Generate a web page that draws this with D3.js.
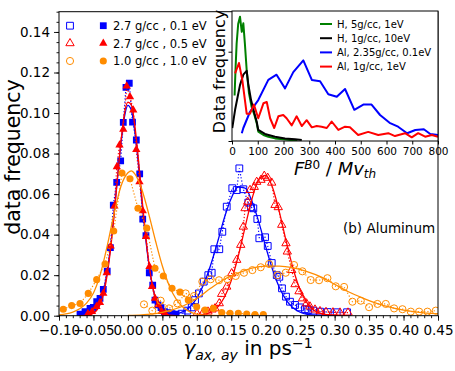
<!DOCTYPE html>
<html>
<head>
<meta charset="utf-8">
<script src="https://d3js.org/d3.v7.min.js"></script>
<style>
  * { margin: 0; padding: 0; }
  body { background: #fff; }
  text { font-family: 'DejaVu Sans', sans-serif; fill: #000; }
</style>
</head>
<body>
<svg id="chart" width="455" height="371"></svg>
<script>
// ---- main panel: [gamma (ps^-1), data frequency] ----
// filled markers (peak near zero)
const blueFilled = [[-0.0695,0.0008],[-0.0623,0.0020],[-0.0550,0.0036],[-0.0502,0.0041],[-0.0453,0.0069],[-0.0405,0.0086],[-0.0357,0.0130],[-0.0300,0.0220],[-0.0254,0.0336],[-0.0212,0.0546],[-0.0163,0.0658],[-0.0105,0.0764],[-0.0067,0.0954],[-0.0028,0.1127],[0.0020,0.1147],[0.0067,0.0955],[0.0122,0.0867],[0.0171,0.0700],[0.0215,0.0477],[0.0262,0.0395],[0.0310,0.0212],[0.0360,0.0151],[0.0393,0.0077],[0.0437,0.0053],[0.0480,0.0040],[0.0530,0.0020],[0.0580,0.0015],[0.0640,0.0010],[0.0700,0.0008]];
const redFilled = [[-0.0580,0.0010],[-0.0521,0.0020],[-0.0456,0.0045],[-0.0405,0.0065],[-0.0357,0.0110],[-0.0308,0.0212],[-0.0250,0.0344],[-0.0195,0.0541],[-0.0161,0.0735],[-0.0122,0.0842],[-0.0067,0.0920],[-0.0018,0.1133],[0.0030,0.1080],[0.0078,0.1015],[0.0122,0.0820],[0.0168,0.0660],[0.0215,0.0517],[0.0263,0.0390],[0.0313,0.0242],[0.0350,0.0143],[0.0393,0.0086],[0.0441,0.0053],[0.0490,0.0020],[0.0538,0.0012]];
const orangeFilled = [[-0.0938,0.0032],[-0.0816,0.0050],[-0.0695,0.0060],[-0.0575,0.0110],[-0.0453,0.0178],[-0.0332,0.0255],[-0.0206,0.0418],[-0.0086,0.0704],[0.0030,0.0676],[0.0146,0.0530],[0.0273,0.0432],[0.0393,0.0234],[0.0514,0.0196],[0.0640,0.0135],[0.0756,0.0116],[0.0876,0.0077],[0.0998,0.0044],[0.1119,0.0028],[0.1239,0.0036],[0.1361,0.0015],[0.1482,0.0012],[0.1602,0.0012],[0.1724,0.0008],[0.1844,0.0006],[0.1965,0.0006]];
// open markers (shifted peaks)
const blueOpen = [[0.0780,0.0010],[0.0862,0.0025],[0.0926,0.0041],[0.0974,0.0077],[0.1030,0.0110],[0.1100,0.0168],[0.1167,0.0200],[0.1216,0.0212],[0.1254,0.0328],[0.1326,0.0328],[0.1370,0.0414],[0.1434,0.0538],[0.1515,0.0629],[0.1579,0.0620],[0.1617,0.0727],[0.1675,0.0624],[0.1747,0.0558],[0.1786,0.0535],[0.1820,0.0530],[0.1878,0.0477],[0.1907,0.0382],[0.1990,0.0387],[0.2029,0.0344],[0.2087,0.0260],[0.2160,0.0200],[0.2197,0.0192],[0.2236,0.0135],[0.2294,0.0094],[0.2352,0.0069],[0.2425,0.0053],[0.2497,0.0041],[0.2570,0.0032],[0.2618,0.0028],[0.2690,0.0025],[0.2788,0.0020],[0.2900,0.0018],[0.3030,0.0017],[0.3180,0.0017]];
const redOpen = [[0.1003,0.0010],[0.1090,0.0015],[0.1162,0.0020],[0.1220,0.0030],[0.1264,0.0036],[0.1326,0.0061],[0.1360,0.0107],[0.1434,0.0143],[0.1506,0.0209],[0.1579,0.0275],[0.1637,0.0349],[0.1675,0.0439],[0.1700,0.0530],[0.1738,0.0562],[0.1772,0.0620],[0.1834,0.0635],[0.1869,0.0660],[0.1931,0.0670],[0.1979,0.0690],[0.2029,0.0680],[0.2087,0.0656],[0.2135,0.0546],[0.2182,0.0535],[0.2232,0.0448],[0.2294,0.0357],[0.2313,0.0316],[0.2377,0.0225],[0.2425,0.0155],[0.2483,0.0120],[0.2534,0.0085],[0.2592,0.0060],[0.2642,0.0045],[0.2715,0.0030],[0.2788,0.0022],[0.2875,0.0018],[0.2976,0.0016],[0.3078,0.0015],[0.3194,0.0015]];
const orangeOpen = [[0.0233,0.0056],[0.0354,0.0025],[0.0475,0.0074],[0.0596,0.0036],[0.0717,0.0061],[0.0838,0.0110],[0.0959,0.0097],[0.1080,0.0168],[0.1201,0.0180],[0.1322,0.0175],[0.1443,0.0180],[0.1564,0.0196],[0.1685,0.0212],[0.1806,0.0225],[0.1927,0.0239],[0.2048,0.0255],[0.2169,0.0200],[0.2290,0.0212],[0.2411,0.0250],[0.2532,0.0219],[0.2653,0.0176],[0.2774,0.0175],[0.2895,0.0185],[0.3016,0.0145],[0.3137,0.0142],[0.3258,0.0069],[0.3379,0.0074],[0.3500,0.0042],[0.3621,0.0058],[0.3742,0.0058],[0.3863,0.0036],[0.3984,0.0032],[0.4105,0.0020],[0.4226,0.0020],[0.4347,0.0020],[0.4468,0.0025]];
// fitted curves
const blueFitCentre = [[-0.07,0.0000],[-0.06,0.0002],[-0.05,0.0015],[-0.04,0.0066],[-0.035,0.0125],[-0.03,0.0217],[-0.025,0.0345],[-0.02,0.0506],[-0.015,0.0685],[-0.01,0.0854],[-0.005,0.0981],[0.0,0.1038],[0.005,0.1013],[0.01,0.0911],[0.015,0.0755],[0.02,0.0577],[0.025,0.0406],[0.03,0.0264],[0.035,0.0158],[0.04,0.0087],[0.05,0.0021],[0.06,0.0004],[0.07,0.0000]];
const redFitCentre = [[-0.07,0.0000],[-0.06,0.0001],[-0.05,0.0012],[-0.04,0.0058],[-0.035,0.0113],[-0.03,0.0203],[-0.025,0.0333],[-0.02,0.0498],[-0.015,0.0683],[-0.01,0.0862],[-0.005,0.0998],[0.0,0.1054],[0.005,0.1040],[0.01,0.0940],[0.015,0.0782],[0.02,0.0596],[0.025,0.0418],[0.03,0.0270],[0.035,0.0160],[0.04,0.0087],[0.05,0.0020],[0.06,0.0003],[0.07,0.0000]];
const orangeFitCentre = [[-0.10,0.0004],[-0.09,0.0009],[-0.08,0.0018],[-0.07,0.0034],[-0.06,0.0062],[-0.05,0.0112],[-0.04,0.0205],[-0.03,0.0345],[-0.02,0.0505],[-0.01,0.0640],[0.0,0.0705],[0.005,0.0715],[0.01,0.0700],[0.02,0.0625],[0.03,0.0505],[0.04,0.0370],[0.05,0.0245],[0.06,0.0148],[0.07,0.0082],[0.08,0.0042],[0.09,0.0019],[0.10,0.0008],[0.12,0.0001],[0.14,0.0000]];
const blueFitShift = [[0.05,0.0000],[0.06,0.0003],[0.07,0.0008],[0.08,0.0020],[0.09,0.0044],[0.10,0.0087],[0.11,0.0155],[0.12,0.0249],[0.13,0.0362],[0.14,0.0483],[0.15,0.0580],[0.16,0.0635],[0.17,0.0629],[0.18,0.0565],[0.19,0.0462],[0.20,0.0340],[0.21,0.0227],[0.22,0.0138],[0.23,0.0076],[0.24,0.0038],[0.25,0.0017],[0.26,0.0007],[0.28,0.0001],[0.30,0.0000]];
const redFitShift = [[0.09,0.0000],[0.10,0.0002],[0.11,0.0006],[0.12,0.0017],[0.13,0.0042],[0.14,0.0091],[0.15,0.0173],[0.16,0.0292],[0.17,0.0436],[0.18,0.0576],[0.19,0.0671],[0.20,0.0692],[0.21,0.0631],[0.22,0.0509],[0.23,0.0363],[0.24,0.0229],[0.25,0.0127],[0.26,0.0063],[0.27,0.0027],[0.28,0.0011],[0.30,0.0001],[0.32,0.0000]];
const orangeFitShift = [[0.0,0.0001],[0.02,0.0004],[0.04,0.0010],[0.06,0.0025],[0.08,0.0048],[0.10,0.0085],[0.12,0.0135],[0.14,0.0180],[0.16,0.0210],[0.18,0.0235],[0.20,0.0245],[0.22,0.0245],[0.24,0.0236],[0.26,0.0218],[0.28,0.0192],[0.30,0.0155],[0.32,0.0118],[0.34,0.0088],[0.36,0.0062],[0.38,0.0042],[0.40,0.0028],[0.42,0.0018],[0.45,0.0009]];

const legendLabels = ["2.7 g/cc , 0.1 eV", "2.7 g/cc , 0.5 eV", "1.0 g/cc , 1.0 eV"];
const xTicks = [-0.10,-0.05,0.00,0.05,0.10,0.15,0.20,0.25,0.30,0.35,0.40,0.45];
const yTicks = [0.00,0.02,0.04,0.06,0.08,0.10,0.12,0.14];

// ---- inset: [F^B0 / Mv_th, data frequency (arb.)] ----
const insetGreen = [[10,0.35],[14,0.57],[18,0.75],[24,0.90],[31,0.956],[38,0.84],[44,0.905],[50,0.75],[57,0.546],[66,0.367],[76,0.264],[87,0.20],[96,0.136],[102,0.072],[122,0.046],[141,0.033],[167,0.020],[199,0.013],[225,0.008],[254,0.003]];
const insetBlack = [[1,0.10],[12,0.24],[22,0.34],[31,0.43],[44,0.51],[57,0.54],[63,0.44],[74,0.315],[87,0.213],[96,0.148],[102,0.085],[128,0.054],[167,0.033],[206,0.020],[245,0.013],[271,0.008]];
const insetBlue = [[38,0.06],[44,0.10],[70,0.225],[102,0.315],[141,0.47],[173,0.51],[206,0.405],[238,0.53],[277,0.62],[310,0.47],[342,0.46],[374,0.36],[407,0.34],[439,0.40],[475,0.24],[510,0.28],[542,0.28],[575,0.20],[612,0.14],[645,0.11],[680,0.06],[712,0.085],[745,0.09],[770,0.054],[800,0.046]];
const insetRed = [[12,0.52],[27,0.60],[40,0.47],[57,0.21],[70,0.21],[85,0.28],[102,0.175],[122,0.29],[135,0.30],[148,0.175],[164,0.10],[180,0.19],[199,0.20],[212,0.175],[232,0.12],[251,0.19],[271,0.115],[290,0.16],[310,0.105],[329,0.115],[348,0.11],[368,0.10],[387,0.15],[413,0.085],[439,0.11],[458,0.105],[490,0.046],[529,0.07],[568,0.046],[607,0.06],[633,0.038],[672,0.06],[698,0.028],[723,0.06],[750,0.033],[776,0.046],[800,0.033]];
const insetLabels = ["H, 5g/cc, 1eV", "H, 1g/cc, 10eV", "Al, 2.35g/cc, 0.1eV", "Al, 1g/cc, 1eV"];
const insetXTicks = [0,100,200,300,400,500,600,700,800];

const BLUE = "#0000ff", RED = "#ff0000", ORANGE = "#ff8c00", GREEN = "#008000";

const svg = d3.select("#chart");
const L = 59, R = 438, T = 11.7, B = 315.7;

const x = d3.scaleLinear().domain([-0.10, 0.45]).range([L, R]);
const y = d3.scaleLinear().domain([0, 0.15]).range([B, T]);

svg.append("clipPath").attr("id", "clipMain")
  .append("rect").attr("x", L).attr("y", T).attr("width", R - L).attr("height", B - T);

const plot = svg.append("g").attr("clip-path", "url(#clipMain)");

const line = d3.line().x(d => x(d[0])).y(d => y(d[1]));
const fitLine = d3.line().x(d => x(d[0])).y(d => y(d[1])).curve(d3.curveMonotoneX);

const symSquare = d3.symbol().type(d3.symbolSquare).size(46);
const symTri = d3.symbol().type(d3.symbolTriangle).size(30);
const symCircle = d3.symbol().type(d3.symbolCircle).size(40);

function dotted(data, color) {
  plot.append("path").datum(data)
    .attr("d", line).attr("fill", "none")
    .attr("stroke", color).attr("stroke-width", 1.2)
    .attr("stroke-dasharray", "1.2,2");
}
function fit(data, color) {
  plot.append("path").datum(data)
    .attr("d", fitLine).attr("fill", "none")
    .attr("stroke", color).attr("stroke-width", 1.3);
}
function markers(data, sym, color, filled) {
  plot.append("g").selectAll("path").data(data).join("path")
    .attr("transform", d => `translate(${x(d[0])},${y(d[1])})`)
    .attr("d", sym)
    .attr("fill", filled ? color : "none")
    .attr("stroke", color)
    .attr("stroke-width", filled ? 0 : 1);
}

// blue
dotted(blueOpen, BLUE); dotted(blueFilled, BLUE);
fit(blueFitShift, BLUE); fit(blueFitCentre, BLUE);
markers(blueOpen, symSquare, BLUE, false); markers(blueFilled, symSquare, BLUE, true);
// red
dotted(redOpen, RED); dotted(redFilled, RED);
fit(redFitShift, RED); fit(redFitCentre, RED);
markers(redOpen, symTri, RED, false); markers(redFilled, symTri, RED, true);
// orange
dotted(orangeOpen, ORANGE); dotted(orangeFilled, ORANGE);
fit(orangeFitShift, ORANGE); fit(orangeFitCentre, ORANGE);
markers(orangeOpen, symCircle, ORANGE, false); markers(orangeFilled, symCircle, ORANGE, true);

// axes
const fmt2 = d3.format(".2f");
const xAx = svg.append("g").attr("transform", `translate(0,${B})`)
  .call(d3.axisBottom(x).tickValues(xTicks).tickSize(5).tickPadding(5).tickFormat(fmt2));
svg.append("g").attr("transform", `translate(0,${B})`)
  .call(d3.axisBottom(x).tickValues(d3.range(-0.10, 0.4501, 0.01)).tickSize(2.5).tickFormat(""));
const yAx = svg.append("g").attr("transform", `translate(${L},0)`)
  .call(d3.axisLeft(y).tickValues(yTicks).tickSize(5).tickPadding(4).tickFormat(fmt2));
svg.append("g").attr("transform", `translate(${L},0)`)
  .call(d3.axisLeft(y).tickValues(d3.range(0, 0.1501, 0.005)).tickSize(2.5).tickFormat(""));
svg.selectAll(".domain").remove();
svg.selectAll(".tick line").attr("stroke", "#000").attr("stroke-width", 0.9);
[xAx, yAx].forEach(a => a.attr("font-size", 13.5).attr("font-family", "'DejaVu Sans', sans-serif"));

svg.append("rect").attr("x", L).attr("y", T).attr("width", R - L).attr("height", B - T)
  .attr("fill", "none").attr("stroke", "#000").attr("stroke-width", 1);

// axis labels
svg.append("text").attr("transform", "translate(19.5,157) rotate(-90)")
  .attr("text-anchor", "middle").attr("font-size", 20.5).text("data frequency");

const xl = svg.append("text").attr("x", 248).attr("y", 355)
  .attr("text-anchor", "middle").attr("font-size", 20);
xl.append("tspan").attr("font-style", "italic").text("γ");
xl.append("tspan").attr("font-style", "italic").attr("font-size", 14).attr("dy", 5).text("ax, ay");
xl.append("tspan").attr("dy", -5).text(" in ps");
xl.append("tspan").attr("font-size", 14).attr("dy", -7).text("−1");

// main legend
const legendSyms = [symSquare, symTri, symCircle];
const legendCols = [BLUE, RED, ORANGE];
const legRowY = [25.7, 43.3, 61];
legendLabels.forEach((lab, i) => {
  svg.append("path").attr("transform", `translate(70,${legRowY[i]})`)
    .attr("d", legendSyms[i]).attr("fill", "none").attr("stroke", legendCols[i]).attr("stroke-width", 1);
  svg.append("path").attr("transform", `translate(103.3,${legRowY[i]})`)
    .attr("d", legendSyms[i]).attr("fill", legendCols[i]);
  svg.append("text").attr("x", 113).attr("y", legRowY[i] + 4.2)
    .attr("font-size", 11.5).text(lab);
});

svg.append("text").attr("x", 343).attr("y", 233).attr("font-size", 13.5).text("(b) Aluminum");

// ---- inset ----
const IL = 232, IR = 438, IT = 11, IB = 141;
const ix = d3.scaleLinear().domain([0, 800]).range([IL, IR]);
const iy = d3.scaleLinear().domain([0, 1]).range([IB, IT]);

svg.append("rect").attr("x", IL).attr("y", IT).attr("width", IR - IL).attr("height", IB - IT)
  .attr("fill", "#fff");
svg.append("clipPath").attr("id", "clipInset")
  .append("rect").attr("x", IL).attr("y", IT).attr("width", IR - IL).attr("height", IB - IT);
const inset = svg.append("g").attr("clip-path", "url(#clipInset)");
const iline = d3.line().x(d => ix(d[0])).y(d => iy(d[1]));
const insetSeries = [insetGreen, insetBlack, insetBlue, insetRed];
const insetCols = [GREEN, "#000", BLUE, RED];
insetSeries.forEach((s, i) => {
  inset.append("path").datum(s).attr("d", iline).attr("fill", "none")
    .attr("stroke", insetCols[i]).attr("stroke-width", 2).attr("stroke-linejoin", "round");
});

const ixAx = svg.append("g").attr("transform", `translate(0,${IB})`)
  .call(d3.axisBottom(ix).tickValues(insetXTicks).tickSize(3.5).tickPadding(3.5).tickFormat(d3.format("d")));
ixAx.attr("font-size", 10.5).attr("font-family", "'DejaVu Sans', sans-serif");
ixAx.select(".domain").remove();
ixAx.selectAll(".tick line").attr("stroke", "#000");
svg.append("g").attr("transform", `translate(${IL},0)`)
  .call(d3.axisLeft(iy).tickValues([0, 0.687]).tickSize(3.5).tickFormat(""))
  .call(g => g.select(".domain").remove())
  .call(g => g.selectAll(".tick line").attr("stroke", "#000"));

svg.append("rect").attr("x", IL).attr("y", IT).attr("width", IR - IL).attr("height", IB - IT)
  .attr("fill", "none").attr("stroke", "#000").attr("stroke-width", 1);

insetLabels.forEach((lab, i) => {
  const yy = 24 + i * 14.2;
  svg.append("line").attr("x1", 320).attr("x2", 332).attr("y1", yy).attr("y2", yy)
    .attr("stroke", insetCols[i]).attr("stroke-width", 2);
  svg.append("text").attr("x", 337).attr("y", yy + 3.6).attr("font-size", 10).text(lab);
});

svg.append("text").attr("transform", "translate(225,71.5) rotate(-90)")
  .attr("text-anchor", "middle").attr("font-size", 16).text("Data frequency");

const ixl = svg.append("text").attr("x", 335).attr("y", 174.5)
  .attr("text-anchor", "middle").attr("font-size", 18);
ixl.append("tspan").attr("font-style", "italic").text("F");
ixl.append("tspan").attr("font-size", 12).attr("dy", -6).attr("font-style", "italic").text("B");
ixl.append("tspan").attr("font-size", 12).text("0");
ixl.append("tspan").attr("dy", 6).text(" / ");
ixl.append("tspan").attr("font-style", "italic").text("Mv");
ixl.append("tspan").attr("font-style", "italic").attr("font-size", 12).attr("dy", 3.5).text("th");
</script>
</body>
</html>
